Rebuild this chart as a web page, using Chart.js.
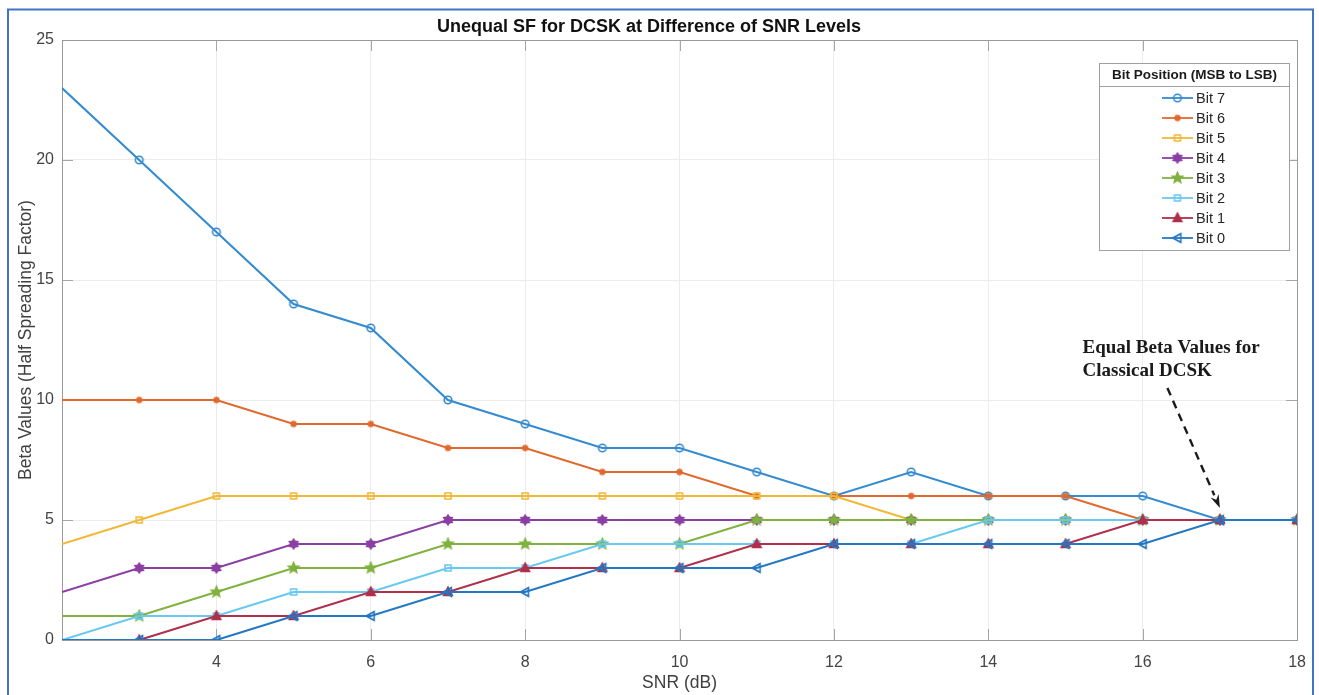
<!DOCTYPE html>
<html>
<head>
<meta charset="utf-8">
<title>Unequal SF for DCSK</title>
<script src="https://cdn.jsdelivr.net/npm/chart.js@4/dist/chart.umd.min.js"></script>
<style>
  html, body { margin: 0; padding: 0; background: #fff; }
  #wrap { width: 1319px; height: 695px; position: relative; }
</style>
</head>
<body>
<div id="wrap"><canvas id="chart" width="1319" height="695"></canvas></div>
<script>
// ---- data ----
var snr   = [2, 3, 4, 5, 6, 7, 8, 9, 10, 11, 12, 13, 14, 15, 16, 17, 18];
var bit7  = [23, 20, 17, 14, 13, 10, 9, 8, 8, 7, 6, 7, 6, 6, 6, 5, 5];
var bit6  = [10, 10, 10, 9, 9, 8, 8, 7, 7, 6, 6, 6, 6, 6, 5, 5, 5];
var bit5  = [4, 5, 6, 6, 6, 6, 6, 6, 6, 6, 6, 5, 5, 5, 5, 5, 5];
var bit4  = [2, 3, 3, 4, 4, 5, 5, 5, 5, 5, 5, 5, 5, 5, 5, 5, 5];
var bit3  = [1, 1, 2, 3, 3, 4, 4, 4, 4, 5, 5, 5, 5, 5, 5, 5, 5];
var bit2  = [0, 1, 1, 2, 2, 3, 3, 4, 4, 4, 4, 4, 5, 5, 5, 5, 5];
var bit1  = [null, 0, 1, 1, 2, 2, 3, 3, 3, 4, 4, 4, 4, 4, 5, 5, 5];
var bit0  = [0, 0, 0, 1, 1, 2, 2, 3, 3, 3, 4, 4, 4, 4, 4, 5, 5];
var seriesNames = ["Bit 7", "Bit 6", "Bit 5", "Bit 4", "Bit 3", "Bit 2", "Bit 1", "Bit 0"];
var xTicks = [4, 6, 8, 10, 12, 14, 16, 18];
var yTicks = [0, 5, 10, 15, 20, 25];

var TITLE = "Unequal SF for DCSK at Difference of SNR Levels";
var LEGEND_TITLE = "Bit Position (MSB to LSB)";
var NOTE = ["Equal Beta Values for", "Classical DCSK"];

// ---- marker glyphs (matlab-ish) ----
function marker(kind, color, r, filled) {
  var s = Math.ceil(r * 2 + 4);
  var c = document.createElement("canvas");
  c.width = c.height = s;
  var g = c.getContext("2d");
  g.translate(s / 2, s / 2);
  g.strokeStyle = color; g.fillStyle = color; g.lineWidth = 1.6;
  g.beginPath();
  var i, a, rr, n;
  if (kind === "circle") g.arc(0, 0, r, 0, Math.PI * 2);
  else if (kind === "square") g.rect(-r, -r, 2 * r, 2 * r);
  else if (kind === "star5" || kind === "star6") {
    n = kind === "star5" ? 5 : 6;
    for (i = 0; i < n * 2; i++) {
      a = -Math.PI / 2 + i * Math.PI / n;
      rr = i % 2 ? r * (n === 5 ? 0.45 : 0.62) : r;
      g.lineTo(Math.cos(a) * rr, Math.sin(a) * rr);
    }
  } else if (kind === "triUp") {
    g.moveTo(0, -r); g.lineTo(r * 0.9, r * 0.7); g.lineTo(-r * 0.9, r * 0.7);
  } else if (kind === "triLeft") {
    g.moveTo(-r, 0); g.lineTo(r * 0.7, -r * 0.9); g.lineTo(r * 0.7, r * 0.9);
  }
  g.closePath();
  if (filled) g.fill();
  g.stroke();
  return c;
}

var colors = ["#358bd0", "#e0692e", "#f1b837", "#8b3fa3", "#7fb23e", "#68c9f0", "#b02f4a", "#2477c2"];
var markers = [
  marker("circle", colors[0], 3.8, false),
  marker("circle", colors[1], 2.4, true),
  marker("square", colors[2], 3, false),
  marker("star6", colors[3], 4.8, true),
  marker("star5", colors[4], 5.4, true),
  marker("square", colors[5], 3, false),
  marker("triUp", colors[6], 4.8, true),
  marker("triLeft", colors[7], 4.8, false)
];
var allSeries = [bit7, bit6, bit5, bit4, bit3, bit2, bit1, bit0];

function points(vals) {
  return snr.map(function (x, i) { return { x: x, y: vals[i] }; });
}

var datasets = allSeries.map(function (vals, i) {
  return {
    label: seriesNames[i],
    data: points(vals),
    borderColor: colors[i],
    backgroundColor: colors[i],
    borderWidth: 2.1,
    pointStyle: markers[i],
    // first column sits on the axis edge; matlab shows no marker there
    pointRadius: function (ctx) { return ctx.dataIndex === 0 ? 0 : 4; },
    pointHoverRadius: 4,
    tension: 0,
    spanGaps: false,
    order: 7 - i
  };
});

// ---- figure frame, axes box, inward ticks ----
var figurePlugin = {
  id: "figure",
  beforeDraw: function (chart) {
    var ctx = chart.ctx;
    ctx.save();
    ctx.fillStyle = "#fff";
    ctx.fillRect(0, 0, chart.width, chart.height);
    ctx.strokeStyle = "#4472c4";
    ctx.lineWidth = 2;
    ctx.strokeRect(8, 9.5, 1305, 720);
    ctx.restore();
  },
  beforeDatasetsDraw: function (chart) {
    var ctx = chart.ctx, a = chart.chartArea;
    var xs = chart.scales.x, ys = chart.scales.y;
    ctx.save();
    ctx.strokeStyle = "#a6a6a6";
    ctx.lineWidth = 1;
    ctx.beginPath();
    xTicks.forEach(function (t) {
      var px = Math.round(xs.getPixelForValue(t)) + 0.5;
      ctx.moveTo(px, a.bottom); ctx.lineTo(px, a.bottom - 11);
      ctx.moveTo(px, a.top); ctx.lineTo(px, a.top + 11);
    });
    yTicks.forEach(function (t) {
      var py = Math.round(ys.getPixelForValue(t)) + 0.5;
      ctx.moveTo(a.left, py); ctx.lineTo(a.left + 11, py);
      ctx.moveTo(a.right, py); ctx.lineTo(a.right - 11, py);
    });
    ctx.stroke();
    ctx.strokeStyle = "#9a9a9a";
    ctx.strokeRect(Math.round(a.left) + 0.5, Math.round(a.top) + 0.5,
                   Math.round(a.right - a.left), Math.round(a.bottom - a.top));
    ctx.restore();
  },
  afterDraw: function (chart) {
    drawLegend(chart);
    drawNote(chart);
  }
};

// ---- boxed legend with title row (matlab style) ----
function drawLegend(chart) {
  var ctx = chart.ctx;
  var bx = 1099.5, by = 63.5, bw = 190, bh = 187;
  ctx.save();
  ctx.fillStyle = "#fff";
  ctx.fillRect(bx, by, bw, bh);
  ctx.strokeStyle = "#a0a0a0";
  ctx.lineWidth = 1;
  ctx.strokeRect(bx, by, bw, bh);
  ctx.beginPath();
  ctx.moveTo(bx, 86.5); ctx.lineTo(bx + bw, 86.5);
  ctx.stroke();
  ctx.fillStyle = "#1a1a1a";
  ctx.font = "bold 13.5px 'Liberation Sans', Arial, sans-serif";
  ctx.textAlign = "center";
  ctx.textBaseline = "middle";
  ctx.fillText(LEGEND_TITLE, bx + bw / 2, 75);
  ctx.font = "14.5px 'Liberation Sans', Arial, sans-serif";
  ctx.textAlign = "left";
  seriesNames.forEach(function (name, i) {
    var y = 98 + i * 20;
    ctx.strokeStyle = colors[i];
    ctx.lineWidth = 1.8;
    ctx.beginPath();
    ctx.moveTo(1162, y); ctx.lineTo(1193, y);
    ctx.stroke();
    var m = markers[i];
    ctx.drawImage(m, 1177.5 - m.width / 2, y - m.height / 2);
    ctx.fillStyle = "#262626";
    ctx.fillText(name, 1196, y + 1);
  });
  ctx.restore();
}

// ---- text arrow annotation, anchored in data units ----
function drawNote(chart) {
  var ctx = chart.ctx, xs = chart.scales.x, ys = chart.scales.y;
  var tx = xs.getPixelForValue(15.22);
  ctx.save();
  ctx.fillStyle = "#1a1a1a";
  ctx.font = "bold 19px 'Liberation Serif', 'Times New Roman', serif";
  ctx.textAlign = "left";
  ctx.textBaseline = "alphabetic";
  ctx.fillText(NOTE[0], tx, ys.getPixelForValue(11.95));
  ctx.fillText(NOTE[1], tx, ys.getPixelForValue(10.98));

  var x0 = xs.getPixelForValue(16.32), y0 = ys.getPixelForValue(10.5);
  var x1 = xs.getPixelForValue(17.0), y1 = ys.getPixelForValue(5.5);
  var ang = Math.atan2(y1 - y0, x1 - x0);
  var head = 14;
  ctx.strokeStyle = "#1a1a1a";
  ctx.lineWidth = 2.4;
  ctx.setLineDash([8, 6]);
  ctx.beginPath();
  ctx.moveTo(x0, y0);
  ctx.lineTo(x1 - Math.cos(ang) * head, y1 - Math.sin(ang) * head);
  ctx.stroke();
  ctx.setLineDash([]);
  ctx.beginPath();
  ctx.moveTo(x1, y1);
  ctx.lineTo(x1 - Math.cos(ang - 0.32) * head, y1 - Math.sin(ang - 0.32) * head);
  ctx.lineTo(x1 - Math.cos(ang) * head * 0.65, y1 - Math.sin(ang) * head * 0.65);
  ctx.lineTo(x1 - Math.cos(ang + 0.32) * head, y1 - Math.sin(ang + 0.32) * head);
  ctx.closePath();
  ctx.fillStyle = "#1a1a1a";
  ctx.fill();
  ctx.restore();
}

var tickFont = { family: "'Liberation Sans', Arial, sans-serif", size: 16 };
var labelFont = { family: "'Liberation Sans', Arial, sans-serif", size: 17.5 };

new Chart(document.getElementById("chart").getContext("2d"), {
  type: "line",
  data: { datasets: datasets },
  plugins: [figurePlugin],
  options: {
    responsive: false,
    animation: false,
    events: [],
    layout: { padding: { left: 0, right: 21, top: 0, bottom: 0 } },
    plugins: {
      legend: { display: false },
      tooltip: { enabled: false },
      title: {
        display: true,
        text: TITLE,
        color: "#111",
        font: { family: "'Liberation Sans', Arial, sans-serif", size: 18, weight: "bold" },
        padding: { top: 16, bottom: 2.4 }
      }
    },
    scales: {
      x: {
        type: "linear",
        min: 2, max: 18,
        afterFit: function (s) { s.height = 55; },
        afterBuildTicks: function (s) { s.ticks = snr.filter(function (v) { return v % 2 === 0; }).map(function (v) { return { value: v }; }); },
        grid: { color: "#ececec", drawTicks: false },
        border: { display: false },
        ticks: {
          autoSkip: false, maxRotation: 0, padding: 13,
          color: "#444", font: tickFont,
          callback: function (v) { return xTicks.indexOf(v) >= 0 ? String(v) : ""; }
        },
        title: {
          display: true, text: "SNR (dB)", color: "#404040",
          font: labelFont, padding: { top: 0, bottom: 1 }
        }
      },
      y: {
        min: 0, max: 25,
        afterFit: function (s) { s.width = 62; },
        afterBuildTicks: function (s) { s.ticks = yTicks.map(function (v) { return { value: v }; }); },
        grid: { color: "#ececec", drawTicks: false },
        border: { display: false },
        ticks: { padding: 8, color: "#444", font: tickFont },
        title: {
          display: true, text: "Beta Values (Half Spreading Factor)", color: "#404040",
          font: labelFont, padding: { top: 16, bottom: 0 }
        }
      }
    }
  }
});
</script>
</body>
</html>
